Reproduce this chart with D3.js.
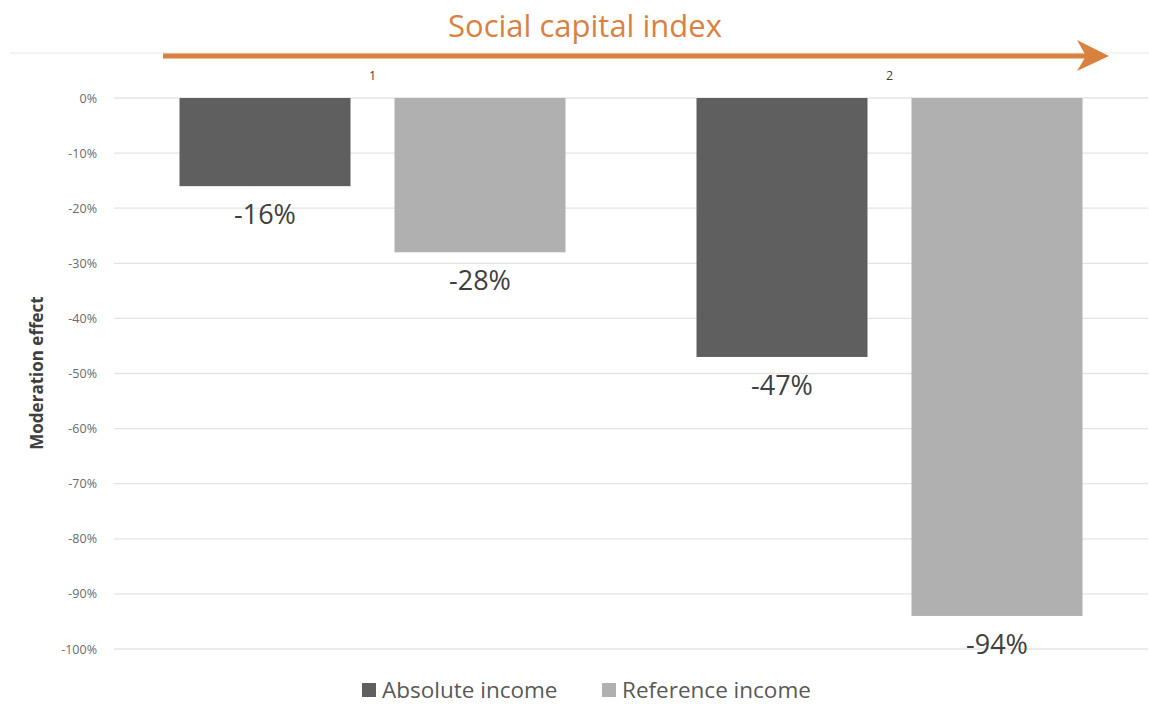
<!DOCTYPE html>
<html>
<head>
<meta charset="utf-8">
<script src="https://cdn.jsdelivr.net/npm/d3@7"></script>
<style>
  html, body { margin: 0; padding: 0; background: #fff; }
  svg { display: block; font-family: "Open Sans", "Noto Sans", sans-serif; }
</style>
</head>
<body>
<svg id="chart" width="1149" height="704"></svg>
<script>
// Moderation effect of the social capital index on income effects
const categories = ["1", "2"];
const seriesNames = ["Absolute income", "Reference income"];
const absoluteIncome = [-0.16, -0.47];
const referenceIncome = [-0.28, -0.94];
const yTicks = [0, -0.1, -0.2, -0.3, -0.4, -0.5, -0.6, -0.7, -0.8, -0.9, -1.0];
const colors = ["#5f5f5f", "#b0b0b0"];

const svg = d3.select("#chart");
const plotTop = 98, plotBottom = 649, plotLeft = 114, plotRight = 1148;

const x0 = d3.scaleBand().domain(categories).range([plotLeft, plotRight]);
const groupW = x0.bandwidth();
const barW = 171, barGap = 44;
const outer = (groupW - (2 * barW + barGap)) / 2;
const x1 = d3.scaleBand().domain(seriesNames)
  .range([outer, groupW - outer])
  .paddingInner(barGap / (barW + barGap));
const y = d3.scaleLinear().domain([-1, 0]).range([plotBottom, plotTop]);

const pct = d => (d === 0 ? "0%" : "-" + Math.round(Math.abs(d) * 100) + "%");

// Horizontal gridlines
svg.append("g").selectAll("line").data(yTicks).join("line")
  .attr("x1", plotLeft).attr("x2", plotRight)
  .attr("y1", d => y(d)).attr("y2", d => y(d))
  .attr("stroke", "#e4e4e4").attr("stroke-width", 1.3);

// Upper frame line that the arrow sits on
svg.append("line").attr("x1", 10).attr("x2", 1149).attr("y1", 53).attr("y2", 53)
  .attr("stroke", "#e8e8e8").attr("stroke-width", 1.2);

// Y axis labels
const yAxis = d3.axisLeft(y).tickValues(yTicks).tickFormat(pct).tickSize(0).tickPadding(0);
const ya = svg.append("g").attr("transform", "translate(97,0)").call(yAxis);
ya.select(".domain").remove();
ya.selectAll("text").attr("fill", "#6a6a6a").attr("font-size", 12.5)
  .attr("font-family", "Open Sans, sans-serif");

// Y axis title
svg.append("text")
  .attr("transform", "translate(43,373) rotate(-90)")
  .attr("text-anchor", "middle")
  .attr("font-size", 17).attr("font-weight", "bold").attr("fill", "#404040")
  .text("Moderation effect");

// Category labels above the bars
const xAxis = d3.axisTop(x0).tickSize(0).tickPadding(0);
const xa = svg.append("g").attr("transform", "translate(0,80)").call(xAxis);
xa.select(".domain").remove();
xa.selectAll("text").attr("fill", "#404040").attr("font-size", 12.5)
  .attr("font-family", "Open Sans, sans-serif");

// Bars
const rows = categories.map((c, i) => ({
  cat: c,
  vals: [
    { name: seriesNames[0], v: absoluteIncome[i], color: colors[0] },
    { name: seriesNames[1], v: referenceIncome[i], color: colors[1] }
  ]
}));

const groups = svg.append("g").selectAll("g").data(rows).join("g")
  .attr("transform", d => `translate(${x0(d.cat)},0)`);

groups.selectAll("rect").data(d => d.vals).join("rect")
  .attr("x", d => x1(d.name))
  .attr("width", x1.bandwidth())
  .attr("y", y(0))
  .attr("height", d => y(d.v) - y(0))
  .attr("fill", d => d.color);

groups.selectAll("text.val").data(d => d.vals).join("text")
  .attr("class", "val")
  .attr("x", d => x1(d.name) + x1.bandwidth() / 2)
  .attr("y", d => y(d.v) + 38)
  .attr("text-anchor", "middle")
  .attr("font-size", 27).attr("fill", "#404040")
  .text(d => pct(d.v));

// Title and arrow
const orange = "#d9823f";
svg.append("text")
  .attr("x", 585).attr("y", 37)
  .attr("text-anchor", "middle")
  .attr("font-size", 31).attr("fill", orange)
  .text("Social capital index");

svg.append("line").attr("x1", 163).attr("x2", 1095).attr("y1", 56).attr("y2", 56)
  .attr("stroke", orange).attr("stroke-width", 5);
svg.append("path")
  .attr("d", "M1077,40 L1109,56 L1077,71 L1086,56 Z")
  .attr("fill", orange);

// Legend
const legend = svg.append("g").attr("transform", "translate(362,690)");
const items = legend.selectAll("g").data(seriesNames).join("g")
  .attr("transform", (d, i) => `translate(${i === 0 ? 0 : 240},0)`);
items.append("rect").attr("x", 0).attr("y", -7).attr("width", 14).attr("height", 14)
  .attr("fill", (d, i) => colors[i]);
items.append("text").attr("x", 20).attr("y", 7.5)
  .attr("font-size", 22.5).attr("fill", "#595959")
  .text(d => d);
</script>
</body>
</html>
